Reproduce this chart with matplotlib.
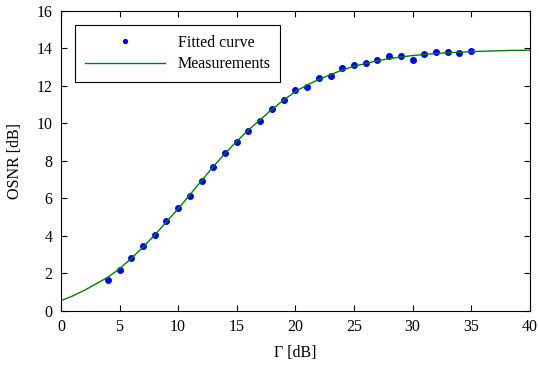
import matplotlib.pyplot as plt

plt.rcParams['font.family'] = ['Liberation Serif', 'DejaVu Serif']

# measured points
gamma_db = [4, 5, 6, 7, 8, 9, 10, 11, 12, 13, 14, 15, 16, 17, 18, 19, 20,
            21, 22, 23, 24, 25, 26, 27, 28, 29, 30, 31, 32, 33, 34, 35]
osnr_db = [1.65, 2.2, 2.85, 3.45, 4.05, 4.8, 5.5, 6.15, 6.95, 7.7, 8.4, 9.0,
           9.6, 10.15, 10.75, 11.25, 11.8, 11.95, 12.4, 12.55, 12.95, 13.1,
           13.25, 13.4, 13.6, 13.6, 13.4, 13.7, 13.8, 13.8, 13.75, 13.85]

# curve
curve_x = list(range(0, 41))
curve_y = [0.55, 0.8, 1.1, 1.45, 1.8, 2.25, 2.8, 3.4, 4.05, 4.75, 5.45, 6.2,
           6.95, 7.7, 8.4, 9.05, 9.65, 10.2, 10.75, 11.25, 11.7, 12.05, 12.35,
           12.6, 12.85, 13.05, 13.2, 13.35, 13.45, 13.55, 13.62, 13.68, 13.73,
           13.77, 13.8, 13.83, 13.85, 13.87, 13.89, 13.9, 13.91]

fig = plt.figure(figsize=(5.39, 3.65), dpi=100)
ax = fig.add_axes([0.113, 0.148, 0.870, 0.822])

ax.plot(gamma_db, osnr_db, '.', color='blue', markersize=8, label='Fitted curve')
ax.plot(curve_x, curve_y, '-', color=(0, 0.5, 0), linewidth=1, label='Measurements')

ax.set_xlim(0, 40)
ax.set_ylim(0, 16)
ax.set_xticks(range(0, 41, 5))
ax.set_yticks(range(0, 17, 2))
ax.tick_params(direction='in', top=True, right=True, labelsize=11.5, length=4, pad=6)
ax.set_xlabel('Γ [dB]', fontsize=11.5, labelpad=7)
ax.set_ylabel('OSNR [dB]', fontsize=11.5, labelpad=10)

leg = ax.legend(loc='upper left', fontsize=11.5, fancybox=False, framealpha=1,
                edgecolor='black', borderaxespad=0.9, handlelength=5.0,
                markerscale=0.7, borderpad=0.6, labelspacing=0.35)
leg.get_frame().set_linewidth(0.8)

fig.savefig('out.png', dpi=100)
